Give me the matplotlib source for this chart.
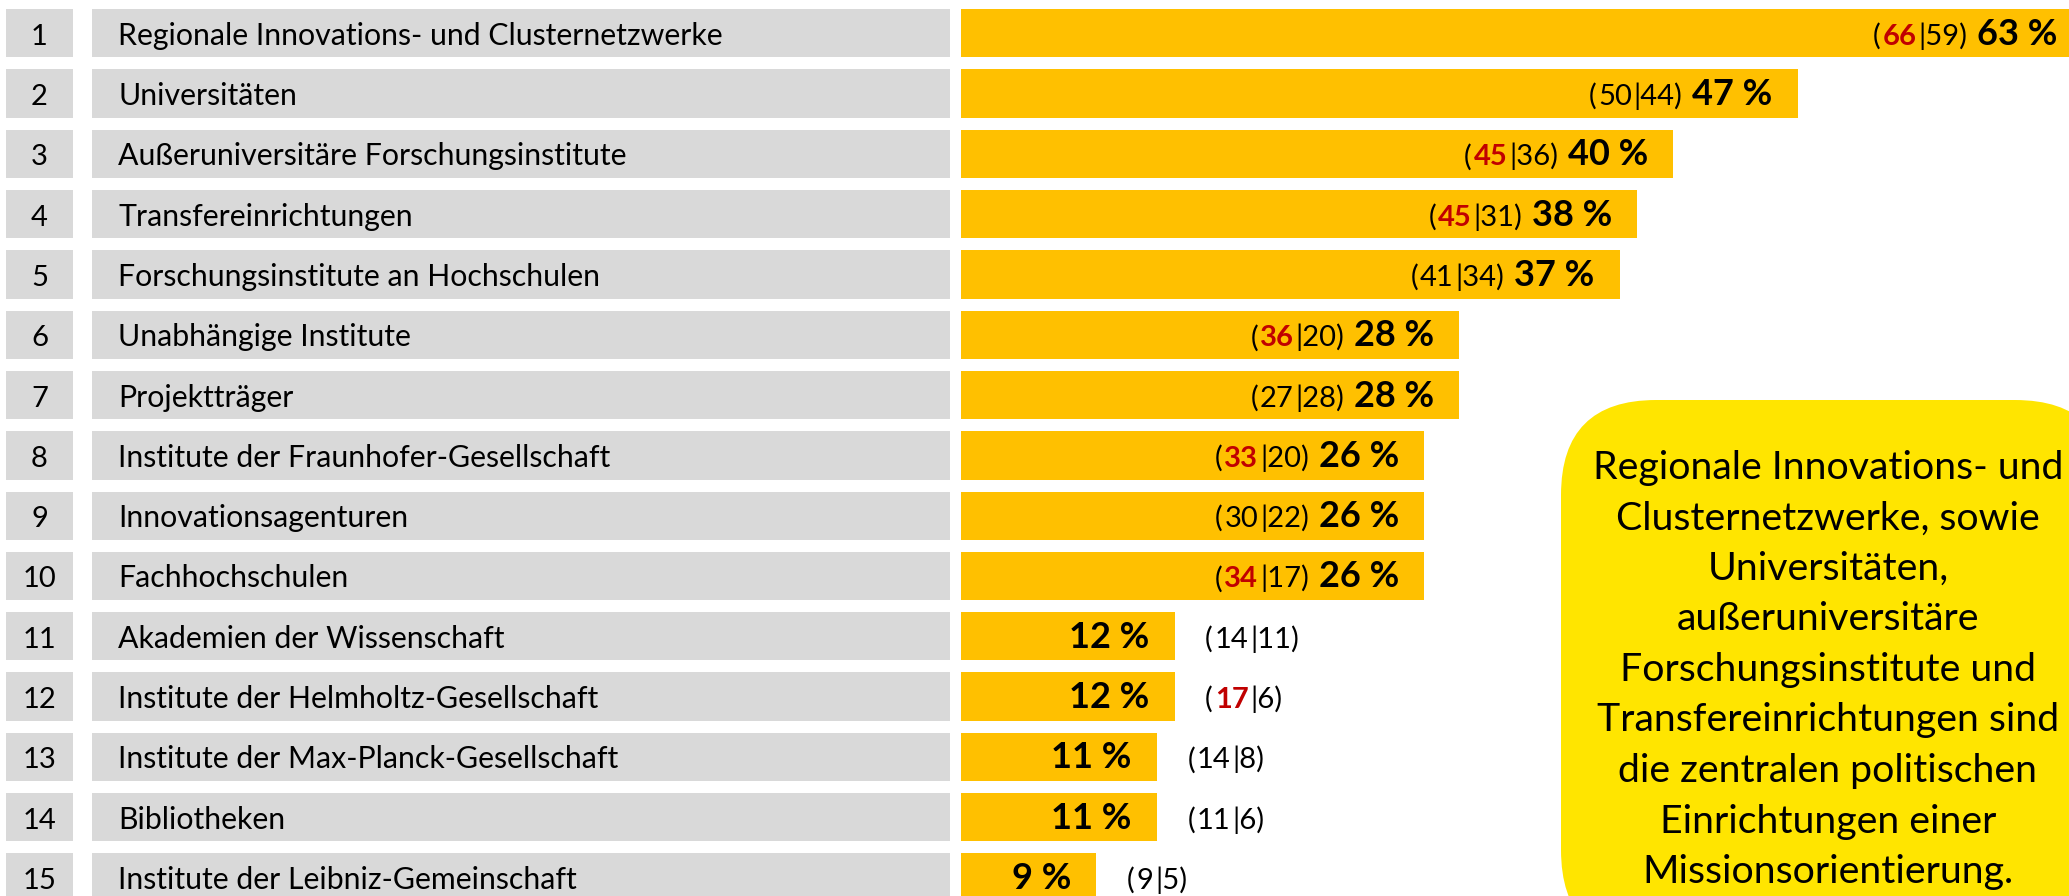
import numpy as np
import matplotlib.pyplot as plt
from matplotlib.patches import FancyBboxPatch
from matplotlib.transforms import IdentityTransform

plt.rcParams['font.family'] = ['Lato', 'DejaVu Sans']

ranks = list(range(1, 16))
labels = ['Regionale Innovations- und Clusternetzwerke', 'Universitäten',
          'Außeruniversitäre Forschungsinstitute', 'Transfereinrichtungen',
          'Forschungsinstitute an Hochschulen', 'Unabhängige Institute',
          'Projektträger', 'Institute der Fraunhofer-Gesellschaft',
          'Innovationsagenturen', 'Fachhochschulen', 'Akademien der Wissenschaft',
          'Institute der Helmholtz-Gesellschaft', 'Institute der Max-Planck-Gesellschaft',
          'Bibliotheken', 'Institute der Leibniz-Gemeinschaft']
pct_label = [63, 47, 40, 38, 37, 28, 28, 26, 26, 26, 12, 12, 11, 11, 9]
bar_len = [63, 47, 40, 38, 37, 28, 28, 26, 26, 26, 12, 12, 11, 11, 7.6]
n_first = [66, 50, 45, 45, 41, 36, 27, 33, 30, 34, 14, 17, 14, 11, 9]
n_second = [59, 44, 36, 31, 34, 20, 28, 20, 22, 17, 11, 6, 8, 6, 5]
first_red = [1, 0, 1, 1, 0, 1, 0, 1, 0, 1, 0, 1, 0, 0, 0]
callout = ('Regionale Innovations- und\nClusternetzwerke, sowie\nUniversitäten,\n'
           'außeruniversitäre\nForschungsinstitute und\nTransfereinrichtungen sind\n'
           'die zentralen politischen\nEinrichtungen einer\nMissionsorientierung.')

GREY = '#D9D9D9'
GOLD = '#FFC000'
RED = '#C00000'
YELLOW = '#FFE500'

W, H = 2069, 896
top, pitch = 33.3, 60.3
ylim = ((H - top) / pitch, -top / pitch)
base = 0.19  # baseline offset below row centre, in rows

fig = plt.figure(figsize=(W / 100, H / 100), dpi=100)
ax_num = fig.add_axes([6 / W, 0, 67 / W, 1])
ax_lab = fig.add_axes([92 / W, 0, 858 / W, 1])
ax_bar = fig.add_axes([961 / W, 0, 1108 / W, 1])

y = np.arange(len(ranks))
ax_num.barh(y, 1, height=0.8, color=GREY)
ax_lab.barh(y, 1, height=0.8, color=GREY)
ax_bar.barh(y, bar_len, height=0.8, color=GOLD)

for ax in (ax_num, ax_lab, ax_bar):
    ax.set_ylim(*ylim)
    ax.set_axis_off()
ax_num.set_xlim(0, 1)
ax_lab.set_xlim(0, 1)
ax_bar.set_xlim(0, 62.25)

for i in range(len(ranks)):
    ax_num.text(0.5, i + base, str(ranks[i]), ha='center', va='baseline', fontsize=21)
    ax_lab.annotate(labels[i], xy=(0, i + base), xytext=(19, 0), textcoords='offset points',
                    ha='left', va='baseline', fontsize=21.8)

    pt = ax_bar.annotate(f'{pct_label[i]} %', xy=(bar_len[i], i + base), xytext=(-18, 0),
                         textcoords='offset points', ha='right', va='baseline',
                         fontsize=26, fontweight='bold', annotation_clip=False)

    pieces = [('(', 'black', 'normal'),
              (str(n_first[i]), RED if first_red[i] else 'black',
               'bold' if first_red[i] else 'normal'),
              ('|' + str(n_second[i]) + ')', 'black', 'normal')]

    if bar_len[i] > 20:
        # numbers inside the bar, left of the percentage
        prev, gap = pt, -7
        for txt, col, wt in reversed(pieces):
            prev = ax_bar.annotate(txt, xy=(0, i + base), xycoords=(prev, 'data'),
                                   xytext=(gap, 0), textcoords='offset points',
                                   ha='right', va='baseline', fontsize=21, color=col,
                                   fontweight=wt, annotation_clip=False)
            gap = -1.3
    else:
        # numbers outside, right of the bar
        prev = None
        for txt, col, wt in pieces:
            if prev is None:
                prev = ax_bar.annotate(txt, xy=(bar_len[i], i + base), xytext=(22, 0),
                                       textcoords='offset points', ha='left', va='baseline',
                                       fontsize=21, color=col, fontweight=wt,
                                       annotation_clip=False)
            else:
                prev = ax_bar.annotate(txt, xy=(1, i + base), xycoords=(prev, 'data'),
                                       xytext=(1.3, 0), textcoords='offset points',
                                       ha='left', va='baseline', fontsize=21, color=col,
                                       fontweight=wt, annotation_clip=False)

box = FancyBboxPatch((1561, -49), 549, 545, boxstyle='round,pad=0,rounding_size=95',
                     transform=IdentityTransform(), facecolor=YELLOW, edgecolor='none')
fig.add_artist(box)
fig.text(1828 / W, 1 - 670 / H, callout, ha='center', va='center', multialignment='center',
         fontsize=28.3, linespacing=1.5)

fig.savefig('out.png', dpi=100)
